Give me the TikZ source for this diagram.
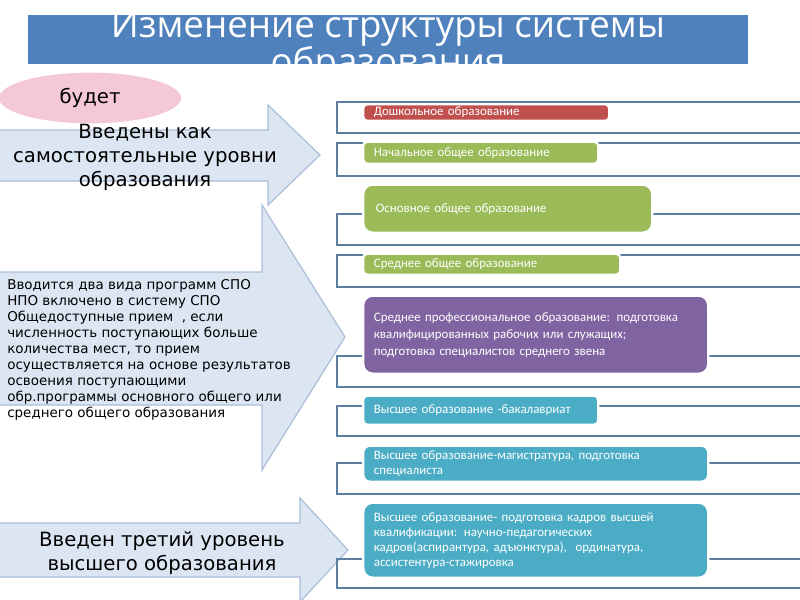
\documentclass[tikz,border=0pt]{standalone}
\usepackage{fontspec}
\setmainfont{DejaVu Sans}
\newfontfamily\boxfont{Carlito}
\newfontfamily\titlefont{Open Sans}
\usetikzlibrary{shapes.geometric}
\definecolor{titleblue}{RGB}{79,129,189}
\definecolor{arrowfill}{RGB}{220,230,242}
\definecolor{arrowline}{RGB}{170,190,216}
\definecolor{pinkfill}{RGB}{245,200,216}
\definecolor{framecol}{RGB}{92,126,160}
\definecolor{redbox}{RGB}{192,80,77}
\definecolor{greenbox}{RGB}{155,187,89}
\definecolor{purplebox}{RGB}{128,100,162}
\definecolor{tealbox}{RGB}{75,172,198}
\tikzset{
  titletext/.style={anchor=base, text=white, inner sep=0pt,
    font=\titlefont\fontsize{27.5}{30}\selectfont},
  frameline/.style={draw=framecol, line width=1.6pt},
  arrowshape/.style={fill=arrowfill, draw=arrowline, line width=0.9pt, line join=miter},
  bigtext/.style={align=center, inner sep=0pt, text=black,
    font=\fontsize{14.75}{18}\selectfont},
  lvl/.style={anchor=north west, draw=white, line width=1.8pt, text=white,
    inner xsep=8pt, inner ysep=0pt, align=left,
    font=\boxfont\fontsize{9.7}{12}\selectfont},
  small/.style={lvl, rounded corners=3pt},
  large/.style={lvl, rounded corners=7pt},
}
\newcommand\frow[2]{\draw[frameline] (801,#1) -- (337,#1) -- (337,#2) -- (801,#2);}
\begin{document}
\begin{tikzpicture}[x=0.75pt,y=-0.75pt]
\useasboundingbox (0,0) rectangle (800,600);
\clip (0,0) rectangle (800,600);
% title
\fill[titleblue] (28,15) rectangle (748,64);
\begin{scope}
\clip (28,15) rectangle (748,64);
\node[titletext] (t1) at (388,37) {Изменение структуры системы};
\node[titletext] (t2) at (388,74) {образования};
\end{scope}
% arrows
\filldraw[arrowshape] (-2,130) -- (268,130) -- (268,105) -- (320,155) -- (268,205) -- (268,181) -- (-2,181) -- cycle;
\node[bigtext] (a1) at (145,157) {Введены как\\самостоятельные уровни\\образования};
\node[ellipse, fill=pinkfill, minimum width=136.5pt, minimum height=38pt, inner sep=0pt,
  font=\fontsize{14.75}{18}\selectfont] (bud) at (90,98) {будет};
\filldraw[arrowshape] (-2,272) -- (262,272) -- (262,205) -- (345,337) -- (262,470) -- (262,405) -- (-2,405) -- cycle;
\node[anchor=north west, align=left, inner sep=0pt, font=\fontsize{10.1}{12}\selectfont] (a2) at (7,279.5)
  {Вводится два вида программ СПО\\
   НПО включено в систему СПО\\
   Общедоступные прием~ , если\\
   численность поступающих больше\\
   количества мест, то прием\\
   осуществляется на основе результатов\\
   освоения поступающими\\
   обр.программы основного общего или\\
   среднего общего образования};
\filldraw[arrowshape] (-2,523) -- (300,523) -- (300,498) -- (348,550) -- (300,602) -- (300,577) -- (-2,577) -- cycle;
\node[bigtext] (a3) at (162,553) {Введен третий уровень\\высшего образования};
% frames
\frow{102}{133}
\frow{143}{176}
\frow{214}{245}
\frow{255}{287}
\frow{356}{387}
\frow{406}{436}
\frow{463}{494}
\frow{559}{588}
% level boxes
\node[small, fill=redbox, text width=168.5pt, minimum height=12.5pt] (b1) at (362,103) {Дошкольное образование};
\node[small, fill=greenbox, text width=160.25pt, minimum height=16.5pt] (b2) at (362,140.5) {Начальное общее образование};
\node[large, fill=greenbox, text width=197.75pt, minimum height=36pt, inner xsep=9.5pt] (b3) at (362,183.5) {Основное общее образование};
\node[small, fill=greenbox, text width=176.75pt, minimum height=15.75pt] (b4) at (362,252.5) {Среднее общее образование};
\node[large, fill=purplebox, text width=242.75pt, minimum height=58.5pt, font=\boxfont\fontsize{9.7}{12.75}\selectfont] (b5) at (362,294.5)
  {Среднее профессиональное образование: подготовка\\квалифицированных рабочих или служащих;\\подготовка специалистов среднего звена};
\node[small, fill=tealbox, text width=160.25pt, minimum height=21.75pt] (b6) at (362,394.5) {Высшее образование -бакалавриат};
\node[large, rounded corners=5pt, fill=tealbox, text width=242.75pt, minimum height=27pt, font=\boxfont\fontsize{9.7}{11.25}\selectfont] (b7) at (362,444.5)
  {Высшее образование-магистратура, подготовка\\специалиста};
\node[large, fill=tealbox, text width=242.75pt, minimum height=56.25pt, font=\boxfont\fontsize{9.7}{11.25}\selectfont] (b8) at (362,501.5)
  {Высшее образование- подготовка кадров высшей\\квалификации: научно-педагогических\\кадров(аспирантура, адъюнктура),~ ординатура,\\ассистентура-стажировка};
\end{tikzpicture}
\end{document}
